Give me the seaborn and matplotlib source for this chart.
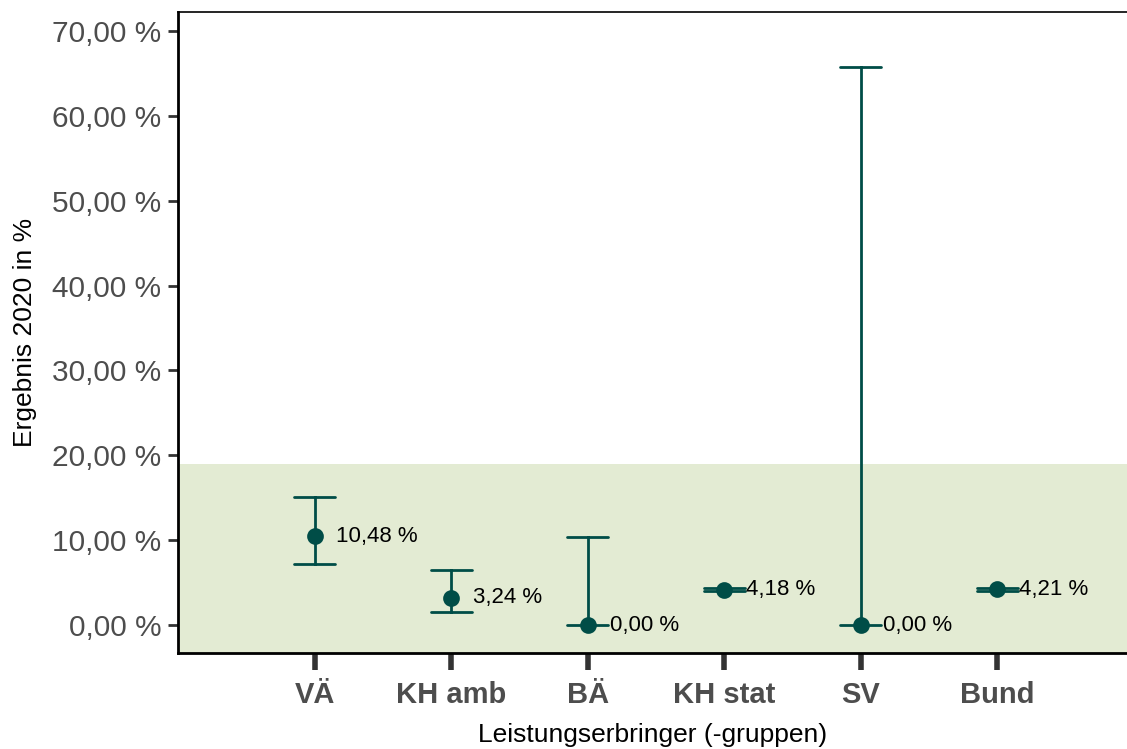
import numpy as np
import pandas as pd
import matplotlib
matplotlib.use("Agg")
import matplotlib.pyplot as plt
import seaborn as sns

categories = ["VÄ", "KH amb", "BÄ", "KH stat", "SV", "Bund"]
estimate = [10.48, 3.24, 0.00, 4.18, 0.00, 4.21]
lower = [7.19, 1.53, 0.00, 3.97, 0.00, 3.99]
upper = [15.08, 6.48, 10.37, 4.40, 65.76, 4.43]
labels = ["10,48 %", "3,24 %", "0,00 %", "4,18 %", "0,00 %", "4,21 %"]
ref_upper = 18.97
yticks = [0, 10, 20, 30, 40, 50, 60, 70]

rows = []
for c, lo, e, hi in zip(categories, lower, estimate, upper):
    for v in (lo, e, hi):
        rows.append({"cat": c, "val": v})
df = pd.DataFrame(rows)

sns.set_theme(style="white")
plt.rcParams["font.family"] = ["Liberation Sans", "DejaVu Sans"]

color = "#004d47"
fig = plt.figure(figsize=(11.27, 7.49), dpi=100)
ax = fig.add_axes([0.158, 0.128, 0.842, 0.856])

ax.axhspan(-10, ref_upper, color="#e3ebd3", zorder=0, lw=0)

sns.pointplot(data=df, x="cat", y="val", order=categories,
              estimator="median", errorbar=("pi", 100),
              linestyle="none", color=color, capsize=0.3,
              markersize=10, err_kws={"linewidth": 2.0}, ax=ax, zorder=3)

for i, (e, lab) in enumerate(zip(estimate, labels)):
    ax.text(i + 0.16, e, lab, ha="left", va="center", fontsize=16, color="black", zorder=4)

ax.set_xlim(-1, 5.95)
ax.set_ylim(-3.3, 72.24)
ax.set_yticks(yticks)
ax.set_yticklabels([f"{t:.2f}".replace(".", ",") + " %" for t in yticks])

ax.tick_params(axis="y", length=7, width=2, color="#333333", labelsize=21.5,
               labelcolor="#4d4d4d", pad=5, left=True)
ax.tick_params(axis="x", length=12, width=4, color="#333333", labelsize=21,
               labelcolor="#4d4d4d", pad=8, bottom=True)
for t in ax.get_xticklabels():
    t.set_fontweight("bold")

ax.set_xlabel("Leistungserbringer (-gruppen)", fontsize=19, color="black", labelpad=10)
ax.set_ylabel("Ergebnis 2020 in %", fontsize=19, color="black", labelpad=11)

for s in ["left", "bottom"]:
    ax.spines[s].set_visible(True)
    ax.spines[s].set_color("black")
    ax.spines[s].set_linewidth(2)
ax.spines["top"].set_color("black")
ax.spines["top"].set_linewidth(1.2)
ax.spines["right"].set_visible(False)
ax.grid(False)

fig.savefig("out.png", dpi=100)
